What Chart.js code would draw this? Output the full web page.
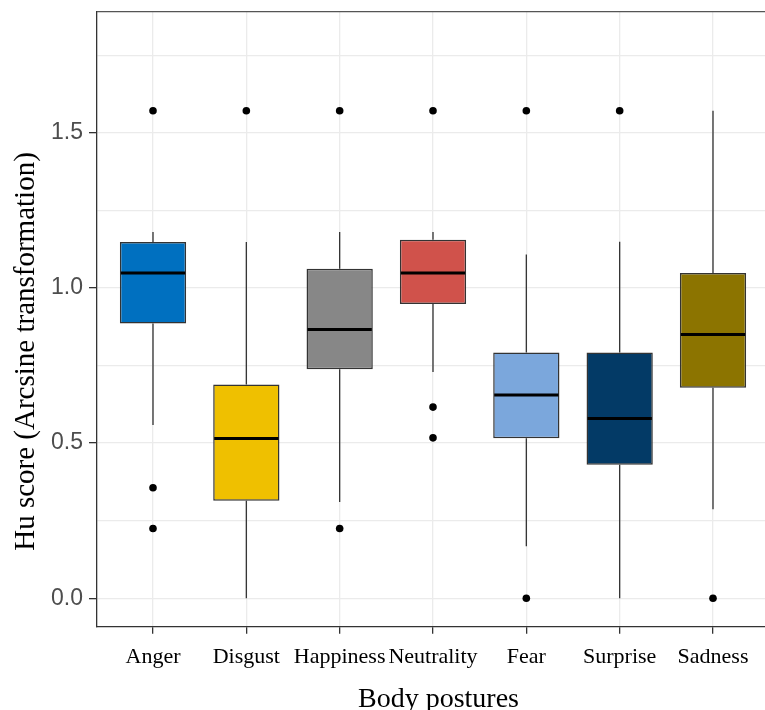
<!DOCTYPE html>
<html>
<head>
<meta charset="utf-8">
<script src="https://cdn.jsdelivr.net/npm/chart.js@4.4.1/dist/chart.umd.min.js"></script>
<style>
  html, body { margin: 0; padding: 0; background: #fff; overflow: hidden; }
  canvas { display: block; }
</style>
</head>
<body>
<canvas id="huChart" width="780" height="710"></canvas>
<script>
// Hu scores per body posture (arcsine transformed)
const postures = ["Anger", "Disgust", "Happiness", "Neutrality", "Fear", "Surprise", "Sadness"];
const whiskerLow = [0.558, 0, 0.31, 0.729, 0.168, 0, 0.287];
const q1 = [0.885, 0.314, 0.738, 0.948, 0.516, 0.43, 0.678];
const medians = [1.048, 0.515, 0.866, 1.048, 0.655, 0.579, 0.85];
const q3 = [1.148, 0.689, 1.062, 1.155, 0.792, 0.792, 1.048];
const whiskerHigh = [1.18, 1.148, 1.18, 1.18, 1.108, 1.149, 1.571];
const outliers = [[1.571, 0.356, 0.225], [1.571], [1.571, 0.225], [1.571, 0.616, 0.517], [1.571, 0], [1.571], [0]];
const yTicks = [0, 0.5, 1.0, 1.5];
const yMinorTicks = [0.25, 0.75, 1.25, 1.75];

const boxColors = ["#0070C0", "#EFC000", "#878787", "#D0524B", "#7BA7DC", "#033A66", "#8C7400"];
const lineColor = "#333333";
const gridColor = "#EBEBEB";

const isMajor = (v) => yTicks.some((t) => Math.abs(t - v) < 1e-9);

// whiskers under the boxes, medians on top, then axis titles and panel top edge
const boxplotParts = {
  id: "boxplotParts",
  beforeDatasetsDraw(chart) {
    const { ctx } = chart;
    const y = chart.scales.y;
    const bars = chart.getDatasetMeta(0).data;
    ctx.save();
    ctx.strokeStyle = lineColor;
    ctx.lineWidth = 1.3;
    bars.forEach((bar, i) => {
      ctx.beginPath();
      ctx.moveTo(bar.x, y.getPixelForValue(q3[i]));
      ctx.lineTo(bar.x, y.getPixelForValue(whiskerHigh[i]));
      ctx.moveTo(bar.x, y.getPixelForValue(q1[i]));
      ctx.lineTo(bar.x, y.getPixelForValue(whiskerLow[i]));
      ctx.stroke();
    });
    ctx.restore();
  },
  afterDatasetsDraw(chart) {
    const { ctx } = chart;
    const y = chart.scales.y;
    const bars = chart.getDatasetMeta(0).data;
    ctx.save();
    ctx.strokeStyle = "#000000";
    ctx.lineWidth = 3;
    bars.forEach((bar, i) => {
      const py = y.getPixelForValue(medians[i]);
      ctx.beginPath();
      ctx.moveTo(bar.x - bar.width / 2 + 1, py);
      ctx.lineTo(bar.x + bar.width / 2 - 1, py);
      ctx.stroke();
    });
    ctx.restore();
  },
  afterDraw(chart) {
    const { ctx, chartArea } = chart;
    ctx.save();
    // top edge of the panel
    ctx.strokeStyle = "#555555";
    ctx.lineWidth = 1.3;
    ctx.beginPath();
    ctx.moveTo(chartArea.left, chartArea.top);
    ctx.lineTo(chartArea.right, chartArea.top);
    ctx.stroke();

    ctx.fillStyle = "#000000";
    ctx.textAlign = "center";
    ctx.textBaseline = "alphabetic";
    ctx.font = "28px 'Liberation Serif'";
    ctx.fillText("Body postures", 438.5, 706.5);

    ctx.translate(33.5, 351.5);
    ctx.rotate(-Math.PI / 2);
    ctx.font = "29px 'Liberation Serif'";
    ctx.fillText("Hu score (Arcsine transformation)", 0, 0);
    ctx.restore();
  }
};

new Chart(document.getElementById("huChart"), {
  type: "bar",
  data: {
    datasets: [
      {
        label: "IQR",
        data: postures.map((p, i) => ({ x: i, y: [q1[i], q3[i]] })),
        backgroundColor: boxColors,
        borderColor: lineColor,
        borderWidth: 1.5,
        borderSkipped: false,
        categoryPercentage: 1,
        barPercentage: 0.71,
        order: 2
      },
      {
        type: "scatter",
        label: "Outliers",
        data: outliers.flatMap((vals, i) => vals.map((v) => ({ x: i, y: v }))),
        backgroundColor: "#000000",
        borderWidth: 0,
        pointRadius: 3.8,
        order: 1
      }
    ]
  },
  options: {
    responsive: false,
    animation: false,
    layout: { padding: { top: 11.7, right: 11, bottom: 0, left: 0 } },
    plugins: {
      legend: { display: false },
      tooltip: { enabled: false }
    },
    scales: {
      x: {
        type: "linear",
        min: -0.6,
        max: 6.6,
        offset: false,
        afterBuildTicks: (scale) => {
          scale.ticks = postures.map((p, i) => ({ value: i }));
        },
        afterFit: (scale) => {
          scale.height = 83.3;
          scale.paddingLeft = 0;
          scale.paddingRight = 0;
        },
        grid: {
          offset: false,
          color: gridColor,
          lineWidth: 1.3,
          tickLength: 7,
          tickColor: lineColor,
          tickWidth: 1.3
        },
        border: { color: lineColor, width: 1.3 },
        ticks: {
          callback: (v) => postures[v],
          color: "#000000",
          font: { family: "Liberation Serif", size: 22 },
          padding: 10.7,
          maxRotation: 0,
          autoSkip: false
        }
      },
      y: {
        type: "linear",
        min: -0.0915,
        max: 1.89,
        afterBuildTicks: (scale) => {
          scale.ticks = [...yTicks, ...yMinorTicks].sort((a, b) => a - b).map((v) => ({ value: v }));
        },
        afterFit: (scale) => {
          scale.width = 97;
          scale.paddingTop = 0;
          scale.paddingBottom = 0;
        },
        grid: {
          color: gridColor,
          lineWidth: 1.3,
          tickLength: 8,
          tickColor: (c) => (c.tick && isMajor(c.tick.value) ? lineColor : "rgba(0,0,0,0)"),
          tickWidth: 1.3
        },
        border: { color: lineColor, width: 1.3 },
        ticks: {
          callback: (v) => (isMajor(v) ? v.toFixed(1) : ""),
          color: "#4D4D4D",
          font: { family: "Liberation Sans", size: 23 },
          padding: 6,
          autoSkip: false
        }
      }
    }
  },
  plugins: [boxplotParts]
});
</script>
</body>
</html>
